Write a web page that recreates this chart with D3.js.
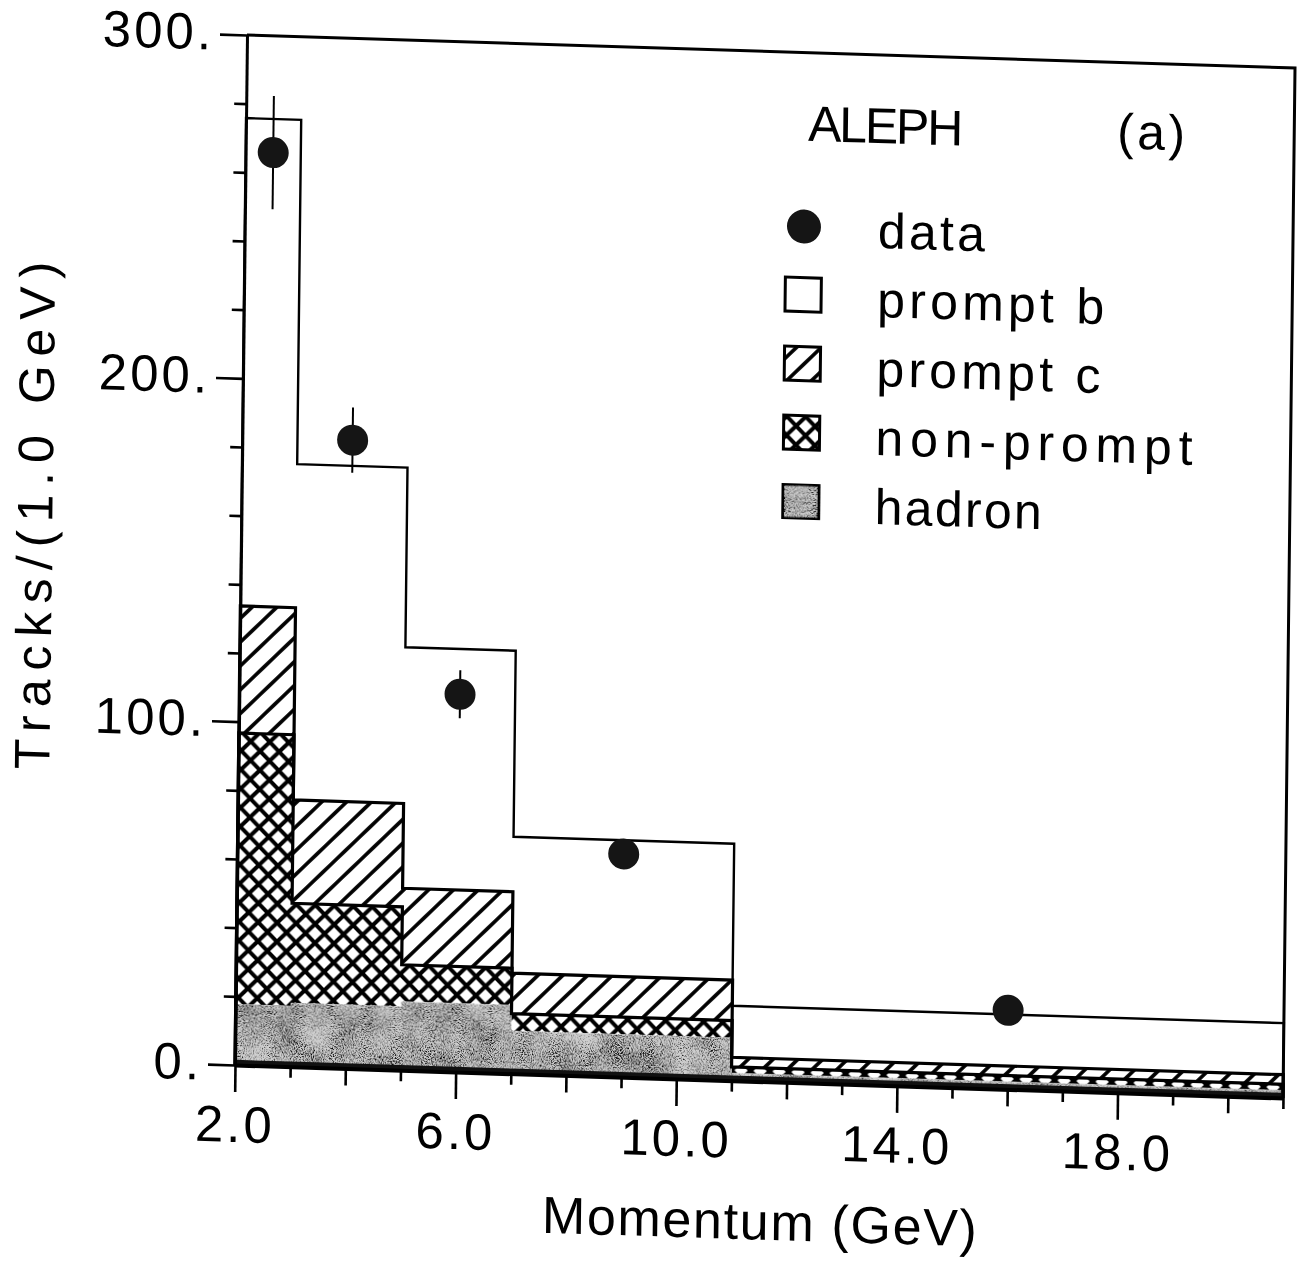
<!DOCTYPE html>
<html><head><meta charset="utf-8">
<script src="https://cdn.jsdelivr.net/npm/d3@7"></script>
<style>html,body{margin:0;padding:0;background:#fff;} svg{display:block;}</style>
</head><body><div id="chart"></div>
<script>
// ---------------- data ----------------
const binEdges   = [2, 3, 5, 7, 11, 21];            // momentum bin edges (GeV)
const hadron     = [17.7, 18.6, 20.0, 12.5, 2.2];   // stacked components, tracks/(1.0 GeV)
const nonPrompt  = [79.0, 29.0, 10.7, 5.0, 1.8];
const promptC    = [37.0, 30.1, 22.3, 11.8, 2.8];
const promptB    = [142.1, 97.8, 70.2, 39.7, 15.0];
const dataMomentum = [2.5, 4.0, 6.0, 9.0, 16.0];
const dataTracks   = [266, 183, 110, 65, 23];
const dataErrors   = [16.5, 9.5, 7, 4, 3];
const yTickValues  = d3.range(0, 301, 20);
const xTickValues  = d3.range(2, 22, 1);
const legendLabels = ["data", "prompt b", "prompt c", "non-prompt", "hadron"];
const titleLabel = "ALEPH";
const panelLabel = "(a)";
const xTitle = "Momentum (GeV)";
const yTitle = "Tracks/(1.0 GeV)";

// ---------------- layout ----------------
const W = 1299, H = 1264;
const m = {left: 235, top: 35, right: 16, bottom: 199};
const FONT = "'Liberation Sans', Arial, Helvetica, sans-serif";

const svg = d3.select("#chart").append("svg")
  .attr("width", W).attr("height", H).attr("viewBox", `0 0 ${W} ${H}`);
svg.append("rect").attr("width", W).attr("height", H).attr("fill", "#fff");

const defs = svg.append("defs");
// prompt c : single diagonal hatch
const pc = defs.append("pattern").attr("id", "hatchC").attr("patternUnits", "userSpaceOnUse")
  .attr("width", 17).attr("height", 17).attr("patternTransform", "rotate(45)");
pc.append("rect").attr("width", 17).attr("height", 17).attr("fill", "#fff");
pc.append("line").attr("x1", 8.5).attr("x2", 8.5).attr("y1", -1).attr("y2", 18)
  .attr("stroke", "#000").attr("stroke-width", 3.6);
// non-prompt : diagonal cross hatch
const np = defs.append("pattern").attr("id", "hatchX").attr("patternUnits", "userSpaceOnUse")
  .attr("width", 19).attr("height", 19);
np.append("rect").attr("width", 19).attr("height", 19).attr("fill", "#fff");
np.append("path")
  .attr("d", "M-4,-4L23,23M23,-4L-4,23M-4,15L4,23M15,-4L23,4M-4,4L4,-4M15,23L23,15")
  .attr("stroke", "#000").attr("stroke-width", 4.0).attr("fill", "none");
// hadron : speckled grey
const f = defs.append("filter").attr("id", "speckle")
  .attr("x", "-2%").attr("y", "-2%").attr("width", "104%").attr("height", "104%");
f.append("feTurbulence").attr("type", "fractalNoise").attr("baseFrequency", 0.9)
  .attr("numOctaves", 2).attr("seed", 7).attr("result", "noise");
f.append("feTurbulence").attr("type", "fractalNoise").attr("baseFrequency", 0.03)
  .attr("numOctaves", 2).attr("seed", 3).attr("result", "blob");
f.append("feComposite").attr("in", "noise").attr("in2", "blob").attr("operator", "arithmetic")
  .attr("k1", 0).attr("k2", 0.8).attr("k3", 0.25).attr("k4", -0.05).attr("result", "mix");
f.append("feColorMatrix").attr("in", "mix").attr("type", "matrix")
  .attr("values", "0 0 0 0 0  0 0 0 0 0  0 0 0 0 0  -4.5 0 0 0 2.35").attr("result", "dots");
f.append("feComposite").attr("in", "dots").attr("in2", "SourceAlpha").attr("operator", "in").attr("result", "clip");
const fm = f.append("feMerge");
fm.append("feMergeNode").attr("in", "SourceGraphic");
fm.append("feMergeNode").attr("in", "clip");

// the scanned figure is slightly skewed: reproduce with an affine transform
const g = svg.append("g").attr("transform", "matrix(1,0.0315,-0.01165,1,12.41,-7.40)");

const x = d3.scaleLinear().domain([2, 21]).range([m.left, W - m.right]);
const y = d3.scaleLinear().domain([0, 300]).range([H - m.bottom, m.top]);

// ---------------- stacked histogram ----------------
const layers = [
  {key: "hadron", vals: hadron, fill: "#cfcfcf", filter: "url(#speckle)", sw: 0},
  {key: "nonPrompt", vals: nonPrompt, fill: "url(#hatchX)", sw: 3.2},
  {key: "promptC", vals: promptC, fill: "url(#hatchC)", sw: 3.2},
  {key: "promptB", vals: promptB, fill: "#fff", sw: 2.4}
];
let base = binEdges.slice(0, -1).map(() => 0);
layers.forEach(l => {
  const top = base.map((b, i) => b + l.vals[i]);
  l.bottom = base; l.top = top; base = top;
});

const area = d3.area().curve(d3.curveStepAfter)
  .x(d => x(d.x)).y0(d => y(d.y0)).y1(d => y(d.y1));
const line = d3.line().curve(d3.curveStepAfter).x(d => x(d.x)).y(d => y(d.y));

function areaPts(l) {
  const pts = l.top.map((t, i) => ({x: binEdges[i], y0: l.bottom[i], y1: t}));
  const n = l.top.length - 1;
  pts.push({x: binEdges[n + 1], y0: l.bottom[n], y1: l.top[n]});
  return pts;
}
function outlinePts(l) {
  const pts = [{x: binEdges[0], y: 0}];
  l.top.forEach((t, i) => pts.push({x: binEdges[i], y: t}));
  const n = l.top.length - 1;
  pts.push({x: binEdges[n + 1], y: l.top[n]});
  pts.push({x: binEdges[n + 1], y: 0});
  return pts;
}
[...layers].reverse().forEach(l => {
  g.append("path").datum(areaPts(l)).attr("d", area)
    .attr("fill", l.fill).attr("filter", l.filter || null);
});
[...layers].reverse().forEach(l => {
  if (l.sw > 0) g.append("path").datum(outlinePts(l)).attr("d", line)
    .attr("fill", "none").attr("stroke", "#000").attr("stroke-width", l.sw)
    .attr("stroke-linejoin", "miter");
});
// dark band along the bottom of the hadron component
g.append("path").datum(areaPts(layers[0]).map(d => ({x: d.x, y0: 0, y1: Math.min(d.y1, 1.5)})))
  .attr("d", area).attr("fill", "#111");

// ---------------- frame & axes ----------------
g.append("path")
  .attr("d", `M${x(2)},${y(300)}H${x(21)}V${y(0)}`)
  .attr("fill", "none").attr("stroke", "#000").attr("stroke-width", 3);

const yAxis = g.append("g").attr("transform", `translate(${m.left},0)`)
  .call(d3.axisLeft(y).tickValues(yTickValues).tickSize(12).tickSizeOuter(0)
    .tickFormat(d => d % 100 === 0 ? d + "." : ""));
yAxis.select(".domain").attr("stroke-width", 3);
yAxis.selectAll(".tick line").attr("stroke-width", 2.6).attr("x2", d => d % 100 === 0 ? -27 : -12);
yAxis.selectAll(".tick text").attr("x", -33).attr("dy", null).attr("y", 15)
  .attr("font-family", FONT).attr("font-size", 51).attr("letter-spacing", 3).attr("fill", "#000");

const xAxis = g.append("g").attr("transform", `translate(0,${H - m.bottom})`)
  .call(d3.axisBottom(x).tickValues(xTickValues).tickSize(10).tickSizeOuter(0)
    .tickFormat(d => (d - 2) % 4 === 0 ? d.toFixed(1) : ""));
xAxis.select(".domain").attr("stroke-width", 4);
xAxis.selectAll(".tick line").attr("stroke-width", 2.6)
  .attr("y2", d => (d - 2) % 4 === 0 ? 27 : (d % 2 === 0 ? 17 : 11));
xAxis.selectAll(".tick text").attr("dy", null).attr("y", 77)
  .attr("font-family", FONT).attr("font-size", 51).attr("letter-spacing", 3).attr("fill", "#000");

// ---------------- data points ----------------
const pts = dataMomentum.map((p, i) => ({p, v: dataTracks[i], e: dataErrors[i]}));
g.selectAll(".err").data(pts).join("line").attr("class", "err")
  .attr("x1", d => x(d.p)).attr("x2", d => x(d.p))
  .attr("y1", d => y(d.v - d.e)).attr("y2", d => y(d.v + d.e))
  .attr("stroke", "#000").attr("stroke-width", 2);
g.selectAll(".pt").data(pts).join("circle").attr("class", "pt")
  .attr("cx", d => x(d.p)).attr("cy", d => y(d.v)).attr("r", 15.5)
  .attr("fill", "#151515");

// ---------------- titles ----------------
g.append("text").attr("x", 761).attr("y", 1223).attr("text-anchor", "middle")
  .attr("font-family", FONT).attr("font-size", 52).attr("textLength", 435)
  .attr("lengthAdjust", "spacing").text(xTitle);
g.append("text").attr("transform", "translate(46,522) rotate(-90)").attr("text-anchor", "middle")
  .attr("font-family", FONT).attr("font-size", 50).attr("textLength", 508)
  .attr("lengthAdjust", "spacing").text(yTitle);

// ---------------- legend ----------------
g.append("text").attr("x", 797).attr("y", 123).attr("font-family", FONT).attr("font-size", 50)
  .attr("textLength", 155).attr("lengthAdjust", "spacing").text(titleLabel);
g.append("text").attr("x", 1106).attr("y", 121).attr("font-family", FONT).attr("font-size", 50)
  .attr("textLength", 68).attr("lengthAdjust", "spacing").text(panelLabel);

const legFills = [null, "#fff", "url(#hatchC)", "url(#hatchX)", "#cfcfcf"];
const legLen = [107, 227, 224, 317, 167];
const leg = g.append("g");
legendLabels.forEach((lab, i) => {
  const base = 228 + 69 * i;
  if (i === 0) {
    leg.append("circle").attr("cx", 794).attr("cy", base - 19).attr("r", 17).attr("fill", "#151515");
  } else {
    leg.append("rect").attr("x", 776).attr("y", base - 37).attr("width", 36).attr("height", 34)
      .attr("fill", legFills[i]).attr("stroke", "#000").attr("stroke-width", 3)
      .attr("filter", i === 4 ? "url(#speckle)" : null);
  }
  leg.append("text").attr("x", 868).attr("y", base).attr("font-family", FONT).attr("font-size", 50)
    .attr("textLength", legLen[i]).attr("lengthAdjust", "spacing").text(lab);
});
</script>
</body></html>
